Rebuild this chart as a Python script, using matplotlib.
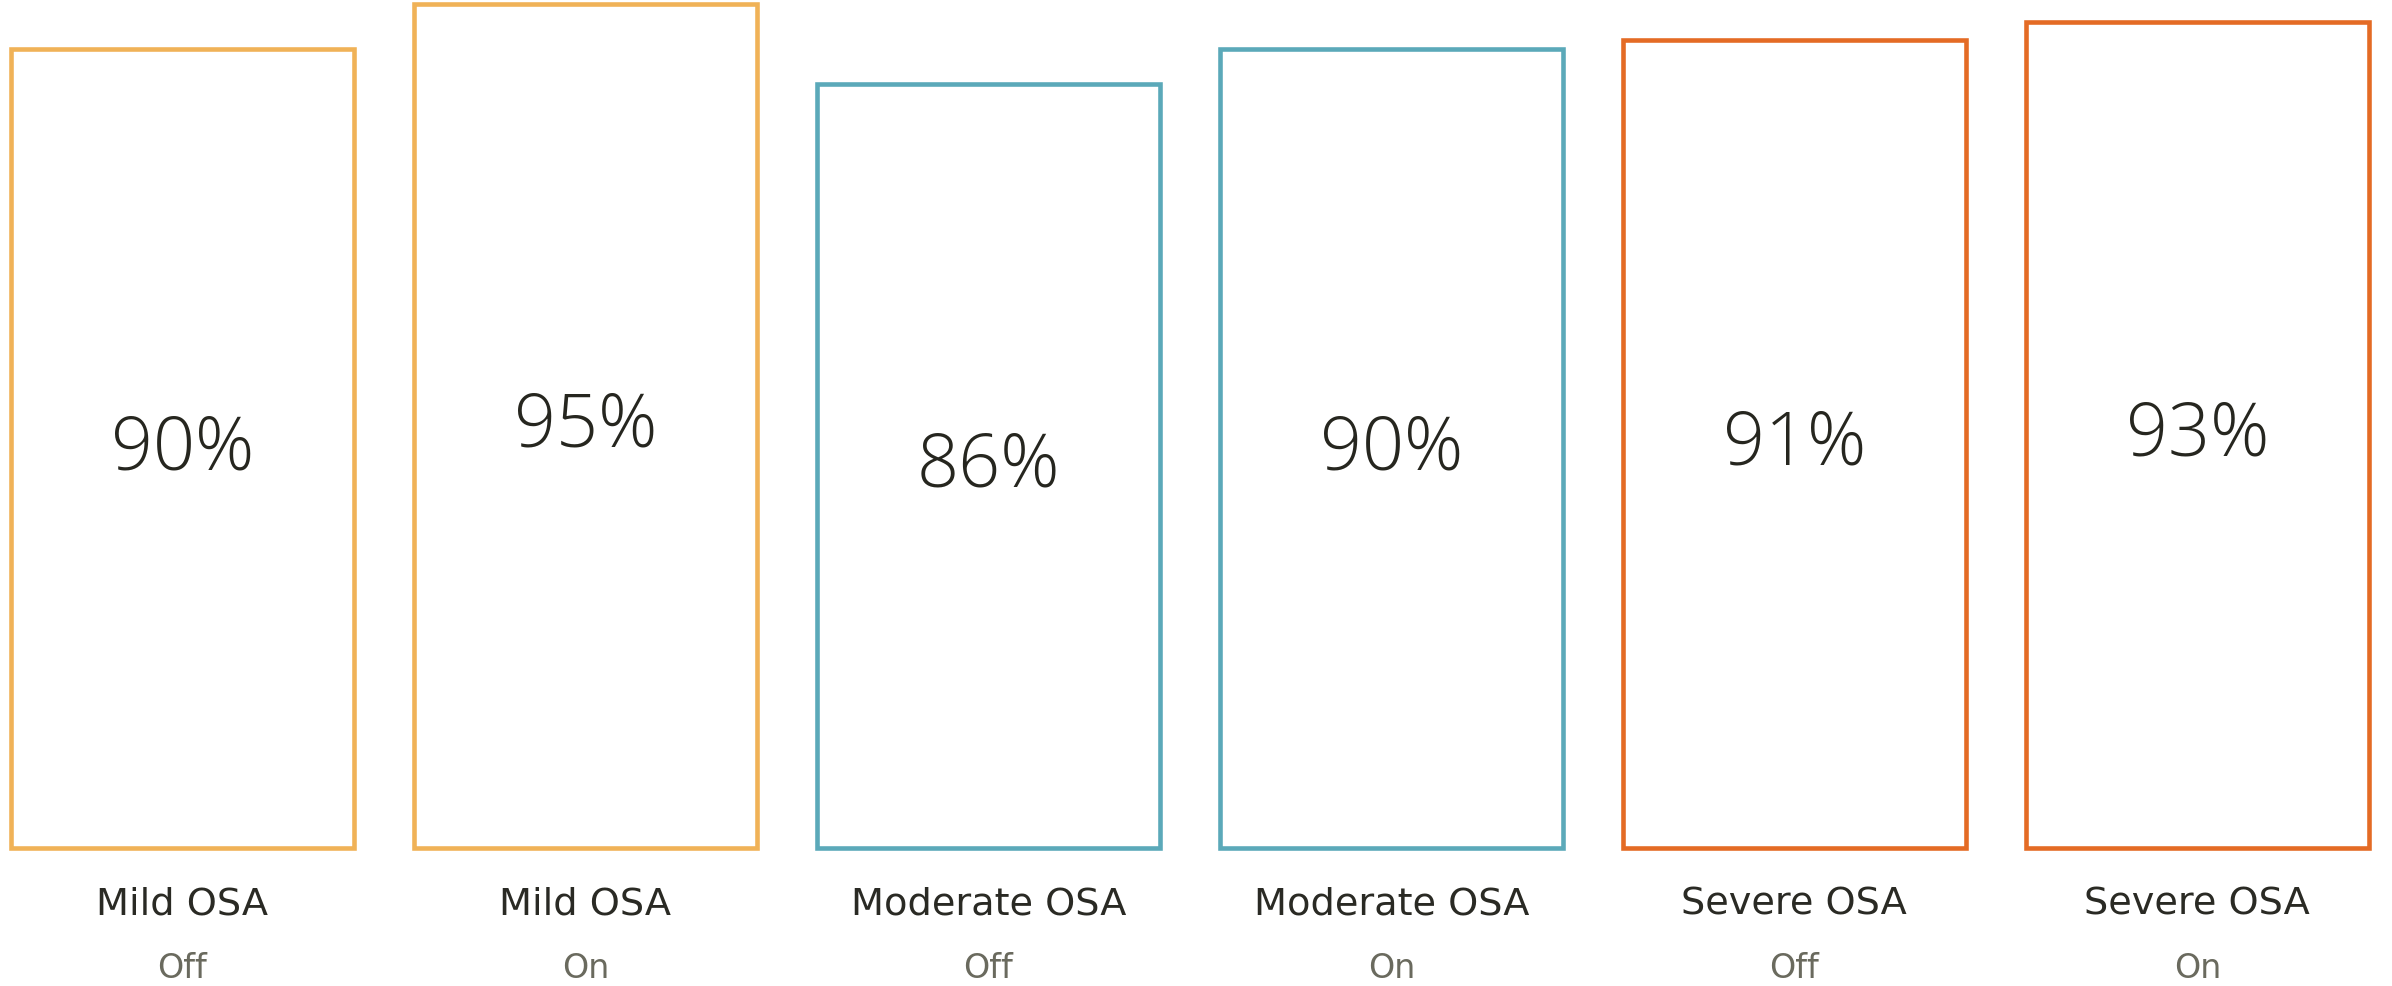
import numpy as np
import matplotlib.pyplot as plt

plt.rcParams['font.family'] = ['DejaVu Sans']

## Data
groups = ["Mild OSA", "Mild OSA", "Moderate OSA", "Moderate OSA", "Severe OSA", "Severe OSA"]
states = ["Off", "On", "Off", "On", "Off", "On"]
values = [90, 95, 86, 90, 91, 93]

colors = {
    "Mild OSA": "#f0b257",
    "Moderate OSA": "#5ba9b9",
    "Severe OSA": "#e46b25",
}

## Plot
fig = plt.figure(figsize=(23.92, 9.87), dpi=100)
ax = fig.add_axes([0, 0.1395, 1, 0.8605])

x = np.arange(len(values))
edge = [colors[g] for g in groups]
bars = ax.bar(x, values, width=0.852, facecolor="white", edgecolor=edge, linewidth=3.3)
for b in bars:
    b.set_clip_on(False)  # keep the bottom edge at full width

# value labels sit in the middle of each bar (baseline shifted down by half the digit height)
for xi, v in zip(x, values):
    ax.text(xi, v / 2 - 2.2, f"{v}%", ha="center", va="baseline",
            fontsize=53, fontweight="light", family=["Open Sans", "DejaVu Sans"],
            color="#26261f")

tr = ax.get_xaxis_transform()
for xi, g, s in zip(x, groups, states):
    ax.text(xi, -0.0765, g, transform=tr, ha="center", va="baseline",
            fontsize=27.5, color="#2a2a24")
    ax.text(xi, -0.151, s, transform=tr, ha="center", va="baseline",
            fontsize=24, color="#6a6a5e")

ax.set_xlim(-0.4526, 5.483)
ax.set_ylim(0, 95.6)
ax.axis("off")

fig.savefig("out.png", dpi=100, facecolor="white")
